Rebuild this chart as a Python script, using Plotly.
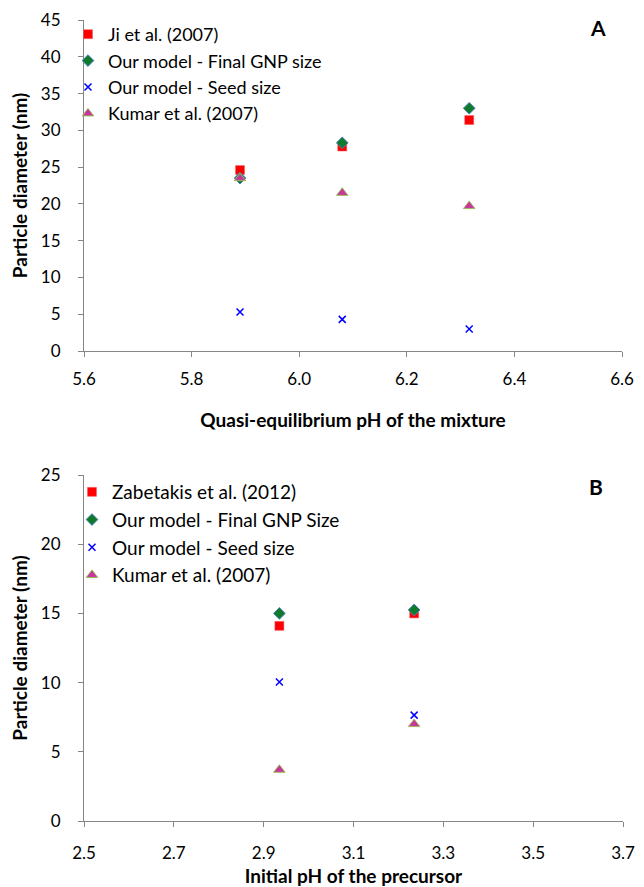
import plotly.graph_objects as go

# Panel A data
ph_a = [5.89, 6.08, 6.316]
ji_2007 = [24.6, 27.8, 31.4]
final_a = [23.5, 28.3, 33.0]
seed_a = [5.3, 4.3, 3.0]
kumar_a = [23.5, 21.5, 19.7]

# Panel B data
ph_b = [2.935, 3.235]
zabetakis_2012 = [14.1, 15.0]
final_b = [15.0, 15.25]
seed_b = [10.05, 7.65]
kumar_b = [3.7, 7.0]

W, H = 644, 887
FONT = "Lato"
AXIS_COLOR = "#868686"

fig = go.Figure()

def add_series(xs, ys, xa, ya, legend, names):
    n1, n2, n3, n4 = names
    fig.add_trace(go.Scatter(x=xs, y=ys[0], mode="markers", name=n1, xaxis=xa, yaxis=ya, legend=legend,
                             marker=dict(symbol="square", size=9, color="#FF0000",
                                         line=dict(color="#E86060", width=0.5))))
    fig.add_trace(go.Scatter(x=xs, y=ys[1], mode="markers", name=n2, xaxis=xa, yaxis=ya, legend=legend,
                             marker=dict(symbol="diamond", size=9, color="#0E7A2A",
                                         line=dict(color="#4F81BD", width=1))))
    fig.add_trace(go.Scatter(x=xs, y=ys[2], mode="markers", name=n3, xaxis=xa, yaxis=ya, legend=legend,
                             marker=dict(symbol="x-thin", size=7, color="#0000FF",
                                         line=dict(color="#0000FF", width=1.5))))
    fig.add_trace(go.Scatter(x=xs, y=ys[3], mode="markers", name=n4, xaxis=xa, yaxis=ya, legend=legend,
                             marker=dict(symbol="triangle-up", size=10, color="#C8359F",
                                         line=dict(color="#9BBB59", width=1))))

add_series(ph_a, [ji_2007, final_a, seed_a, kumar_a], "x", "y", "legend",
           ["Ji et al. (2007)", "Our model - Final GNP size", "Our model - Seed size", "Kumar et al. (2007)"])
add_series(ph_b, [zabetakis_2012, final_b, seed_b, kumar_b], "x2", "y2", "legend2",
           ["Zabetakis et al. (2012)", "Our model - Final GNP Size", "Our model - Seed size", "Kumar et al. (2007)"])

def px_x(p):
    return p / W

def px_y(p):
    return 1 - p / H

axis_common = dict(showgrid=False, zeroline=False, showline=True, linecolor=AXIS_COLOR, linewidth=1,
                   ticks="outside", ticklen=5, tickcolor=AXIS_COLOR, tickwidth=1, automargin=False,
                   tickfont=dict(family=FONT, size=17, color="#000000"))

TITLE_FONT = dict(family=FONT, size=19, color="#000000")

fig.update_layout(
    width=W, height=H,
    margin=dict(l=0, r=0, t=0, b=0, autoexpand=False),
    paper_bgcolor="white", plot_bgcolor="white",
    font=dict(family=FONT, color="#000000"),
    xaxis=dict(domain=[px_x(84), px_x(622)], range=[5.6, 6.6], tick0=5.6, dtick=0.2, tickformat=".1f",
               anchor="y", ticklabelstandoff=8,
               title=dict(text="<b>Quasi-equilibrium pH of the mixture</b>", font=TITLE_FONT, standoff=25),
               **axis_common),
    yaxis=dict(domain=[px_y(351), px_y(20)], range=[0, 45], dtick=5, anchor="x", ticklabelstandoff=14,
               title=dict(text="<b>Particle diameter (nm)</b>", font=TITLE_FONT, standoff=8),
               **axis_common),
    xaxis2=dict(domain=[px_x(84), px_x(623)], range=[2.5, 3.7], tick0=2.5, dtick=0.2, tickformat=".1f",
                anchor="y2", ticklabelstandoff=12,
                title=dict(text="<b>Initial pH of the precursor</b>", font=TITLE_FONT, standoff=14),
                **axis_common),
    yaxis2=dict(domain=[px_y(821), px_y(475)], range=[0, 25], dtick=5, anchor="x2", ticklabelstandoff=14,
                title=dict(text="<b>Particle diameter (nm)</b>", font=TITLE_FONT, standoff=8),
                **axis_common),
    legend=dict(x=px_x(68), y=px_y(16), xanchor="left", yanchor="top", bgcolor="rgba(0,0,0,0)",
                font=dict(family=FONT, size=18), tracegroupgap=0, itemwidth=30),
    legend2=dict(x=px_x(72), y=px_y(473), xanchor="left", yanchor="top", bgcolor="rgba(0,0,0,0)",
                 font=dict(family=FONT, size=19), tracegroupgap=0, itemwidth=30),
    annotations=[
        dict(text="<b>A</b>", x=px_x(598), y=px_y(28), xref="paper", yref="paper", showarrow=False,
             xanchor="center", yanchor="middle",
             font=dict(family=FONT, size=21, color="#000000")),
        dict(text="<b>B</b>", x=px_x(596), y=px_y(486), xref="paper", yref="paper", showarrow=False,
             xanchor="center", yanchor="middle",
             font=dict(family=FONT, size=21, color="#000000")),
    ],
)

fig.write_html("out.html")
